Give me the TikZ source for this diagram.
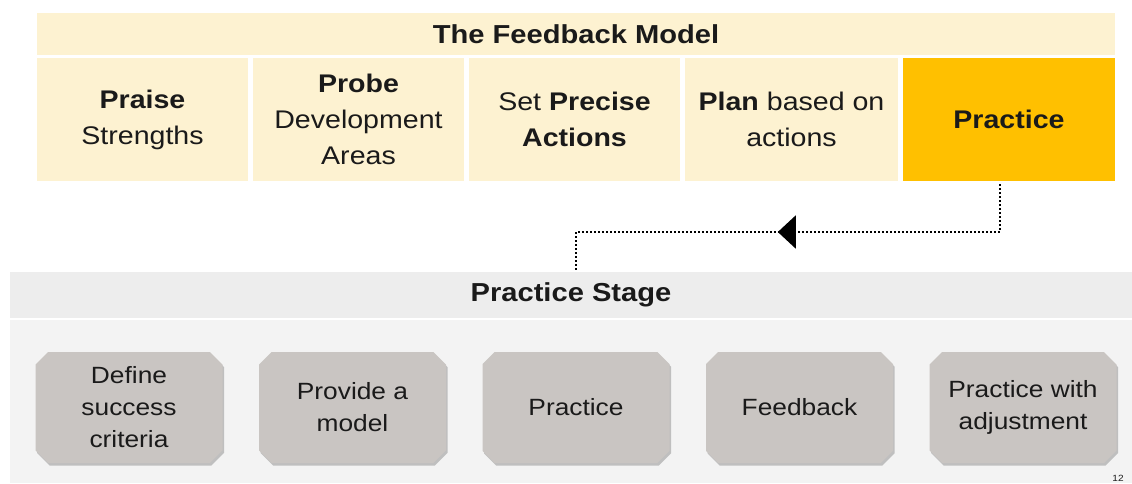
\documentclass[tikz,border=0pt]{standalone}
\usepackage{fontspec}
\setmainfont{Liberation Sans}[FakeStretch=1.12]
\usetikzlibrary{shapes.misc,shadows,decorations.markings,arrows.meta,calc}
\definecolor{cream}{HTML}{FDF2D1}
\definecolor{gold}{HTML}{FFC000}
\definecolor{barg}{HTML}{EDEDED}
\definecolor{bodyg}{HTML}{F3F3F3}
\definecolor{boxg}{HTML}{C9C5C2}
\definecolor{txt}{HTML}{1A1A1A}
\begin{document}
\begin{tikzpicture}[x=1pt,y=-1pt,
  every node/.style={text=txt},
  cell/.style={fill=cream, minimum width=211pt, minimum height=123pt, align=center, inner sep=0pt, font=\fontsize{25.5}{36}\selectfont},
  hdr/.style={inner sep=0pt, align=center, font=\fontsize{26}{30}\selectfont\bfseries},
  stepbox/.style={chamfered rectangle, chamfered rectangle xsep=9pt, fill=boxg, minimum width=187pt, minimum height=111pt, inner sep=0pt, align=center, font=\fontsize{23.5}{32}\selectfont,
    drop shadow={shadow xshift=1.5pt, shadow yshift=-2.5pt, opacity=0.45, fill=gray}},
  flow/.style={line width=2pt, dash pattern=on 2pt off 2pt, draw=black,
    postaction={decorate}, decoration={markings, mark=at position 270pt with {\arrow[solid]{Triangle[width=33pt,length=18pt]}}}}
]
\useasboundingbox (0,0) rectangle (1132,483);
\fill[white] (0,0) rectangle (1132,483);
% top model
\node[hdr, fill=cream, minimum width=1078pt, minimum height=42pt] (title) at (576,34) {The Feedback Model};
\node[cell] (praise) at (142.5,119.5) {\textbf{Praise}\\Strengths};
\node[cell] (probe) at (358.5,119.5) {\textbf{Probe}\\Development\\Areas};
\node[cell] (set) at (574.5,119.5) {Set \textbf{Precise}\\\textbf{Actions}};
\node[cell, minimum width=213pt] (plan) at (791.5,119.5) {\textbf{Plan} based on\\actions};
\node[cell, fill=gold, minimum width=212pt] (practice) at (1009,119.5) {\textbf{Practice}};
% practice stage
\fill[bodyg] (10,320) rectangle (1132,483);
\node[hdr, fill=barg, minimum width=1122pt, minimum height=46pt] (stagebar) at (571,295) {Practice Stage};
\coordinate (turn) at (576,232);
\draw[flow] ([xshift=-9pt,yshift=-3pt]practice.south) |- (turn) -- (turn |- stagebar.north);
\node[stepbox] (s1) at (129,407.5) {Define\\success\\criteria};
\node[stepbox] (s2) at (352.5,407.5) {Provide a\\model};
\node[stepbox] (s3) at (576,407.5) {Practice};
\node[stepbox] (s4) at (799.5,407.5) {Feedback};
\node[stepbox] (s5) at (1023,407.5) {Practice with\\adjustment};
\node[font=\fontsize{9}{10}\selectfont, inner sep=0pt] (pg) at (1118,478) {12};
\end{tikzpicture}
\end{document}
